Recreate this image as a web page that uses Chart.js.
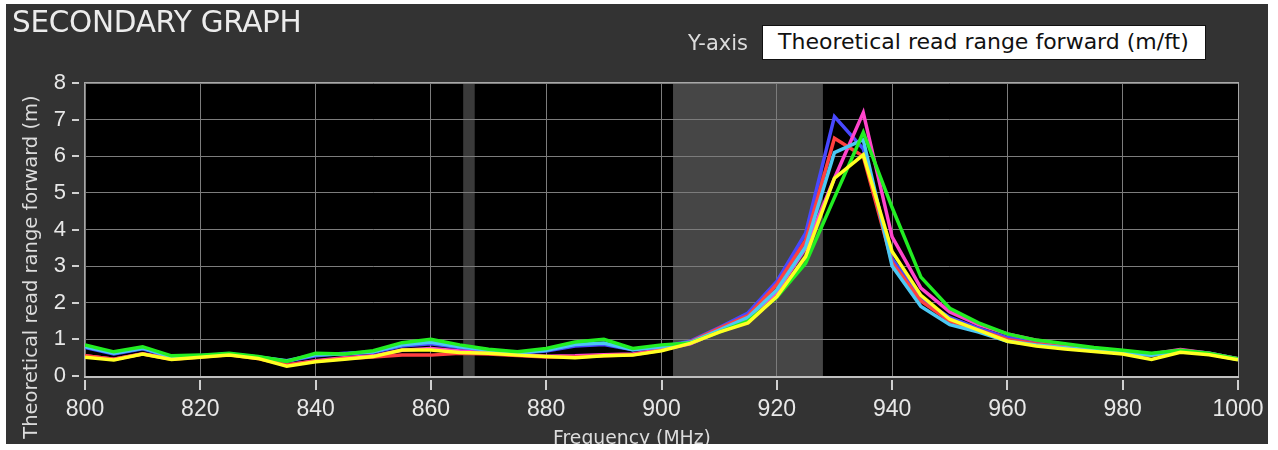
<!DOCTYPE html>
<html>
<head>
<meta charset="utf-8">
<script src="https://cdn.jsdelivr.net/npm/chart.js@4"></script>
<style>
  html, body { margin:0; padding:0; background:#ffffff; width:1278px; height:450px; overflow:hidden; }
  #panel { position:absolute; left:6px; top:4px; width:1262px; height:440px; background:#333333; overflow:hidden;
           font-family:"DejaVu Sans", sans-serif; }
  #title { position:absolute; left:6px; top:1px; font-size:29.5px; color:#ececec; white-space:nowrap; letter-spacing:-0.3px; }
  #yaxislbl { position:absolute; left:682px; top:27px; font-size:21px; color:#dcdcdc; white-space:nowrap; }
  #ybox { position:absolute; left:756px; top:21px; width:444px; height:35px; background:#ffffff; border:1px solid #111;
          box-sizing:border-box; font-size:22px; color:#111; line-height:32px; padding-left:15px; white-space:nowrap; }
  #ytitle { position:absolute; left:-175px; top:252px; width:400px; height:22px; line-height:22px; text-align:center;
            transform:rotate(-90deg); transform-origin:50% 50%; font-size:19.5px; color:#dcdcdc; white-space:nowrap; }
  #xtitle { position:absolute; left:426px; top:423px; width:400px; text-align:center; font-size:18.8px; color:#dcdcdc; white-space:nowrap; }
  canvas { position:absolute; left:0; top:0; }
</style>
</head>
<body>
<div id="panel">
  <canvas id="c" width="1262" height="440"></canvas>
  <div id="title">SECONDARY GRAPH</div>
  <div id="yaxislbl">Y-axis</div>
  <div id="ybox">Theoretical read range forward (m/ft)</div>
  <div id="ytitle">Theoretical read range forward (m)</div>
  <div id="xtitle">Frequency (MHz)</div>
</div>
<script>
// Frequencies (MHz)
const freqs = [800,805,810,815,820,825,830,835,840,845,850,855,860,865,870,875,880,885,890,895,900,
               905,910,915,920,925,930,935,940,945,950,955,960,965,970,975,980,985,990,995,1000];

const green   = [0.85,0.66,0.80,0.55,0.57,0.62,0.53,0.40,0.62,0.60,0.69,0.91,1.00,0.85,0.73,0.66,0.75,0.93,1.00,0.75,0.85,
                 0.90,1.20,1.50,2.15,3.08,4.87,6.65,4.60,2.70,1.85,1.45,1.15,0.98,0.88,0.78,0.70,0.62,0.70,0.62,0.47];
const cyan    = [0.80,0.62,0.76,0.52,0.55,0.60,0.52,0.42,0.58,0.60,0.66,0.85,0.92,0.80,0.70,0.63,0.70,0.86,0.90,0.72,0.80,
                 0.92,1.25,1.60,2.35,3.53,6.10,6.45,3.00,1.90,1.40,1.20,0.95,0.85,0.77,0.70,0.63,0.57,0.68,0.60,0.45];
const blue    = [0.78,0.60,0.74,0.52,0.55,0.60,0.51,0.40,0.55,0.62,0.65,0.82,0.88,0.78,0.68,0.62,0.68,0.82,0.86,0.72,0.80,
                 0.95,1.32,1.72,2.58,3.90,7.08,6.20,3.20,2.10,1.60,1.30,1.05,0.92,0.82,0.74,0.66,0.60,0.70,0.62,0.47];
const red     = [0.55,0.46,0.60,0.46,0.52,0.58,0.48,0.30,0.40,0.48,0.52,0.57,0.57,0.62,0.60,0.56,0.52,0.52,0.55,0.58,0.70,
                 0.93,1.30,1.65,2.50,3.70,6.49,6.00,3.10,2.05,1.50,1.25,1.00,0.88,0.78,0.70,0.64,0.57,0.70,0.60,0.46];
const magenta = [0.55,0.46,0.61,0.47,0.53,0.59,0.50,0.30,0.42,0.50,0.55,0.70,0.75,0.68,0.62,0.58,0.54,0.55,0.58,0.60,0.72,
                 0.88,1.22,1.55,2.30,3.50,5.40,7.19,3.80,2.40,1.75,1.40,1.15,0.98,0.86,0.76,0.68,0.60,0.72,0.62,0.47];
const yellow  = [0.51,0.44,0.60,0.45,0.51,0.57,0.48,0.27,0.39,0.46,0.53,0.71,0.71,0.64,0.62,0.57,0.53,0.50,0.55,0.57,0.69,
                 0.89,1.20,1.45,2.17,3.26,5.40,6.04,3.40,2.20,1.55,1.25,0.95,0.82,0.74,0.67,0.60,0.45,0.65,0.58,0.44];

// Shaded frequency bands (MHz): [start, end]
const bandEU = [865.6, 867.6];
const bandUS = [902, 928];

// Axis ticks
const xTickMin = 800, xTickMax = 1000, xTickStep = 20;
const yTickMin = 0, yTickMax = 8, yTickStep = 1;

function pts(arr) { return freqs.map((f, i) => ({x: f, y: arr[i]})); }

const seriesDefs = [
  {name:'yellow',  data: yellow,  color:'#ffff22'},
  {name:'green',   data: green,   color:'#22ee22'},
  {name:'cyan',    data: cyan,    color:'#4cc8f4'},
  {name:'red',     data: red,     color:'#ff4040'},
  {name:'magenta', data: magenta, color:'#ff44cc'},
  {name:'blue',    data: blue,    color:'#4848ff'}
];

const bgPlugin = {
  id: 'bg',
  beforeDraw(chart) {
    const {ctx, chartArea: a, scales: {x}} = chart;
    ctx.save();
    ctx.fillStyle = '#000000';
    ctx.fillRect(a.left, a.top, a.right - a.left, a.bottom - a.top);
    const x1 = x.getPixelForValue(bandUS[0]), x2 = x.getPixelForValue(bandUS[1]);
    ctx.fillStyle = '#464646';
    ctx.fillRect(x1, a.top, x2 - x1, a.bottom - a.top);
    const e1 = x.getPixelForValue(bandEU[0]), e2 = x.getPixelForValue(bandEU[1]);
    ctx.fillStyle = '#3a3a3a';
    ctx.fillRect(e1, a.top, e2 - e1, a.bottom - a.top);
    ctx.restore();
  },
  afterDraw(chart) {
    const {ctx, chartArea: a, scales: {x, y}} = chart;
    ctx.save();
    ctx.strokeStyle = '#a8a8a8';
    ctx.lineWidth = 1;
    ctx.strokeRect(a.left - 0.5, a.top - 0.5, a.right - a.left + 1, a.bottom - a.top + 1);
    ctx.strokeStyle = '#c0c0c0';
    ctx.lineWidth = 2;
    ctx.beginPath();
    ctx.moveTo(a.left - 1, a.bottom + 1); ctx.lineTo(a.right + 1, a.bottom + 1);
    ctx.stroke();
    // tick marks
    ctx.strokeStyle = '#d0d0d0';
    ctx.lineWidth = 2;
    ctx.beginPath();
    for (let v = xTickMin; v <= xTickMax; v += xTickStep) {
      const px = Math.round(x.getPixelForValue(v));
      ctx.moveTo(px, a.bottom + 4); ctx.lineTo(px, a.bottom + 14);
    }
    for (let v = yTickMin; v <= yTickMax; v += yTickStep) {
      const py = Math.round(y.getPixelForValue(v));
      ctx.moveTo(a.left - 13, py); ctx.lineTo(a.left - 6, py);
    }
    ctx.stroke();
    ctx.restore();
  }
};

new Chart(document.getElementById('c'), {
  type: 'line',
  data: {
    datasets: seriesDefs.map(s => ({
      label: s.name,
      data: pts(s.data),
      borderColor: s.color,
      backgroundColor: s.color,
      borderWidth: 3.5,
      pointRadius: 0,
      tension: 0,
      fill: false
    }))
  },
  options: {
    responsive: false,
    animation: false,
    devicePixelRatio: 1,
    layout: { padding: { top: 79, right: 30, left: 0, bottom: 0 } },
    plugins: { legend: { display: false }, tooltip: { enabled: false }, title: { display: false } },
    scales: {
      x: {
        type: 'linear', min: xTickMin, max: xTickMax,
        afterFit: s => { s.height = 68; s.paddingLeft = 0; s.paddingRight = 0; },
        border: { display: false },
        grid: { color: '#7c7c7c', lineWidth: 1, drawTicks: false },
        ticks: { stepSize: xTickStep, padding: 20, color: '#e8e8e8', maxRotation: 0,
                 callback: v => String(v),
                 font: { family: '"Liberation Sans", Arial, sans-serif', size: 23 } }
      },
      y: {
        min: yTickMin, max: yTickMax,
        afterFit: s => { s.width = 79; s.paddingTop = 0; s.paddingBottom = 0; },
        border: { display: false },
        grid: { color: '#7c7c7c', lineWidth: 1, drawTicks: false },
        ticks: { stepSize: yTickStep, padding: 19, color: '#e8e8e8',
                 font: { family: '"Liberation Sans", Arial, sans-serif', size: 22 } }
      }
    }
  },
  plugins: [bgPlugin]
});
</script>
</body>
</html>
